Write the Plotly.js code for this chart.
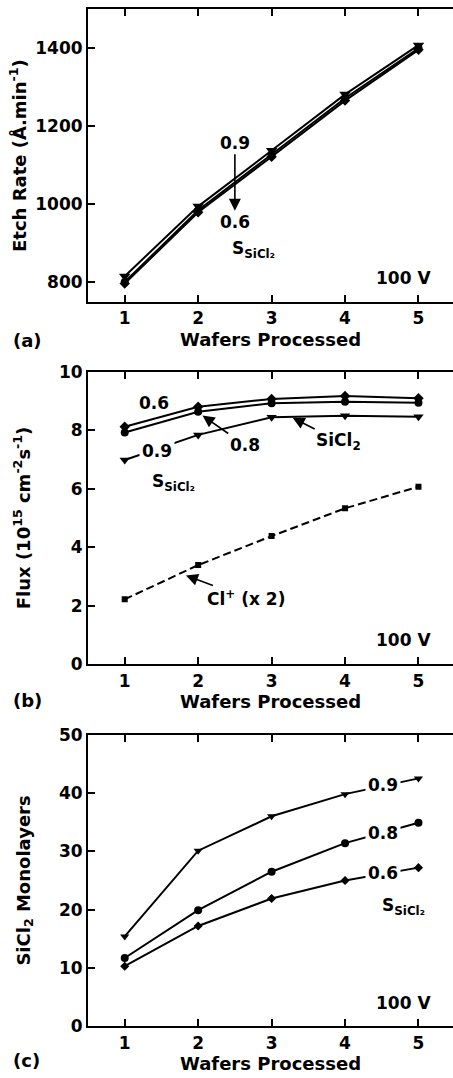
<!DOCTYPE html>
<html>
<head>
<meta charset="utf-8">
<script src="https://cdn.plot.ly/plotly-3.0.1.min.js"></script>
<style>html,body{margin:0;padding:0;background:#fff;}</style>
</head>
<body>
<div id="chart" style="width:453px;height:1078px;"></div>
<script>
// ---- data ----
const wafers = [1, 2, 3, 4, 5];
const xTickVals = [1, 2, 3, 4, 5];

// (a) etch rate (Å/min)
const etch09 = [816, 995, 1138, 1282, 1408];
const etch08 = [801, 985, 1128, 1272, 1400];
const etch06 = [797, 980, 1122, 1266, 1396];
const etchTicks = [800, 1000, 1200, 1400];

// (b) flux (1e15 cm^-2 s^-1)
const flux06 = [8.12, 8.80, 9.07, 9.17, 9.09];
const flux08 = [7.92, 8.63, 8.92, 8.97, 8.94];
const flux09 = [6.98, 7.84, 8.44, 8.49, 8.46];
const fluxCl = [2.22, 3.39, 4.38, 5.33, 6.07];
const fluxTicks = [0, 2, 4, 6, 8, 10];

// (c) SiCl2 monolayers
const mono09 = [15.4, 30.1, 36.0, 39.8, 42.5];
const mono08 = [11.7, 19.9, 26.5, 31.4, 34.9];
const mono06 = [10.3, 17.2, 21.9, 25.0, 27.2];
const monoTicks = [0, 10, 20, 30, 40, 50];

// ---- styling ----
const FAM = '"DejaVu Sans", "Liberation Sans", Arial, sans-serif';
const tickFont = {family: FAM, size: 17, color: '#000', weight: 'bold'};
const titleFont = {family: FAM, size: 18, color: '#000', weight: 'bold'};
const annFont = {family: FAM, size: 17, color: '#000', weight: 'bold'};

function line(x, y, xa, ya, symbol, msize, dash) {
  return {
    x: x, y: y, xaxis: xa, yaxis: ya, type: 'scatter', mode: 'lines+markers',
    line: {color: '#000', width: 2, dash: dash || 'solid'},
    marker: {color: '#000', symbol: symbol, size: msize},
    showlegend: false, hoverinfo: 'skip'
  };
}

const traces = [
  line(wafers, etch06, 'x', 'y', 'diamond', 8),
  line(wafers, etch08, 'x', 'y', 'circle', 8),
  line(wafers, etch09, 'x', 'y', 'triangle-down', 10),

  line(wafers, flux06, 'x2', 'y2', 'diamond', 8),
  line(wafers, flux08, 'x2', 'y2', 'circle', 8),
  line(wafers, flux09, 'x2', 'y2', 'triangle-down', 9),
  line(wafers, fluxCl, 'x2', 'y2', 'square', 6, '8px,4px'),

  line(wafers, mono06, 'x3', 'y3', 'diamond', 7),
  line(wafers, mono08, 'x3', 'y3', 'circle', 8),
  line(wafers, mono09, 'x3', 'y3', 'triangle-down', 8)
];

function xAxis(anchor) {
  return {
    anchor: anchor, domain: [0, 1], range: [0.5, 5.47],
    tickvals: xTickVals, ticks: 'inside', ticklen: 7, tickwidth: 2, tickcolor: '#000',
    showline: true, linewidth: 2, linecolor: '#000', mirror: 'ticks',
    showgrid: false, zeroline: false, tickfont: tickFont,
    title: {text: 'Wafers Processed', font: titleFont, standoff: 6}
  };
}
function yAxis(anchor, domain, range, tickvals, title, standoff) {
  return {
    anchor: anchor, domain: domain, range: range, tickvals: tickvals,
    ticks: 'inside', ticklen: 7, tickwidth: 2, tickcolor: '#000',
    showline: true, linewidth: 2, linecolor: '#000', mirror: false,
    showgrid: false, zeroline: false, tickfont: tickFont,
    title: {text: title, font: titleFont, standoff: standoff}
  };
}
function yRight(overlay, anchor, range, tickvals) {
  return {
    overlaying: overlay, anchor: anchor, side: 'right', range: range, tickvals: tickvals,
    ticks: 'inside', ticklen: 7, tickwidth: 2, tickcolor: '#000',
    showline: false, showgrid: false, zeroline: false, showticklabels: false
  };
}

const domA = [0.7199, 0.9914], domB = [0.3838, 0.6552], domC = [0.0480, 0.3185];
const rA = [750, 1500], rB = [0, 10], rC = [0, 50];

const SS = 'S<sub>SiCl\u2082</sub>';
const arrow = {arrowhead: 2, arrowsize: 1.5, arrowwidth: 1.6, arrowcolor: '#000', standoff: 1};

const annotations = [
  // (a)
  Object.assign({xref: 'x', yref: 'y', x: 2.5, y: 984, text: '0.9', showarrow: true, ax: 0, ay: -68, font: annFont}, arrow, {standoff: 0}),
  {xref: 'x', yref: 'y', x: 2.5, y: 956, text: '0.6', showarrow: false, font: annFont},
  {xref: 'x', yref: 'y', x: 2.434, y: 884, text: SS, xanchor: 'left', showarrow: false, font: annFont},
  {xref: 'x', yref: 'y', x: 5.198, y: 812, text: '100 V', xanchor: 'right', showarrow: false, font: annFont},
  {xref: 'paper', yref: 'paper', x: -0.211, y: 0.6846, text: '(a)', xanchor: 'left', yanchor: 'middle', showarrow: false, font: titleFont},

  // (b)
  {xref: 'x2', yref: 'y2', x: 1.399, y: 8.94, text: '0.6', showarrow: false, font: annFont},
  {xref: 'x2', yref: 'y2', x: 1.44, y: 7.3, text: '0.9', showarrow: false, font: annFont, bgcolor: '#fff', borderpad: 2},
  Object.assign({xref: 'x2', yref: 'y2', x: 2.048, y: 8.52, text: '0.8', showarrow: true, ax: 43, ay: 30, font: annFont}, arrow),
  Object.assign({xref: 'x2', yref: 'y2', x: 3.274, y: 8.44, text: 'SiCl<sub>2</sub>', showarrow: true, ax: 47, ay: 24, font: annFont}, arrow),
  Object.assign({xref: 'x2', yref: 'y2', x: 1.821, y: 3.05, text: 'Cl<sup>+</sup> (x 2)', showarrow: true, ax: 61, ay: 23, font: annFont}, arrow),
  {xref: 'x2', yref: 'y2', x: 1.344, y: 6.2, text: SS, xanchor: 'left', showarrow: false, font: annFont},
  {xref: 'x2', yref: 'y2', x: 5.198, y: 0.83, text: '100 V', xanchor: 'right', showarrow: false, font: annFont},
  {xref: 'paper', yref: 'paper', x: -0.211, y: 0.3506, text: '(b)', xanchor: 'left', yanchor: 'middle', showarrow: false, font: titleFont},

  // (c)
  {xref: 'x3', yref: 'y3', x: 4.517, y: 41.3, text: '0.9', showarrow: false, font: annFont, bgcolor: '#fff', borderpad: 2},
  {xref: 'x3', yref: 'y3', x: 4.517, y: 33.2, text: '0.8', showarrow: false, font: annFont, bgcolor: '#fff', borderpad: 2},
  {xref: 'x3', yref: 'y3', x: 4.517, y: 26.2, text: '0.6', showarrow: false, font: annFont, bgcolor: '#fff', borderpad: 2},
  {xref: 'x3', yref: 'y3', x: 4.476, y: 20.6, text: SS, xanchor: 'left', showarrow: false, font: annFont},
  {xref: 'x3', yref: 'y3', x: 5.198, y: 4.0, text: '100 V', xanchor: 'right', showarrow: false, font: annFont},
  {xref: 'paper', yref: 'paper', x: -0.211, y: 0.0158, text: '(c)', xanchor: 'left', yanchor: 'middle', showarrow: false, font: titleFont}
];

const layout = {
  width: 453, height: 1078,
  margin: {l: 88, r: 0, t: 0, b: 0},
  paper_bgcolor: '#fff', plot_bgcolor: '#fff',
  font: {family: FAM, size: 17, color: '#000', weight: 'bold'},
  showlegend: false,
  xaxis: xAxis('y'),
  xaxis2: xAxis('y2'),
  xaxis3: xAxis('y3'),
  yaxis: yAxis('x', domA, rA, etchTicks, 'Etch Rate (Å.min<sup>-1</sup>)', 4),
  yaxis2: yAxis('x2', domB, rB, fluxTicks, 'Flux (10<sup>15</sup> cm<sup>-2</sup>s<sup>-1</sup>)', 24),
  yaxis3: yAxis('x3', domC, rC, monoTicks, 'SiCl<sub>2</sub> Monolayers', 24),
  yaxis4: yRight('y', 'x', rA, etchTicks),
  yaxis5: yRight('y2', 'x2', rB, fluxTicks),
  yaxis6: yRight('y3', 'x3', rC, monoTicks),
  annotations: annotations
};

Plotly.newPlot('chart', traces, layout, {displayModeBar: false, staticPlot: true});
</script>
</body>
</html>
